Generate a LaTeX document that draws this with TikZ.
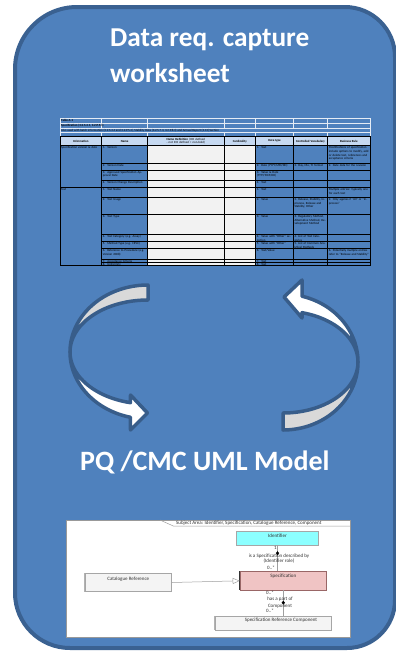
\documentclass[tikz,border=0pt]{standalone}
\usepackage{fontspec}
\setmainfont{Carlito}
\usetikzlibrary{arrows.meta}
\definecolor{panel}{HTML}{4F81BD}
\definecolor{panelborder}{HTML}{3A6191}
\definecolor{hdr}{HTML}{C6D9F1}
\definecolor{cellgray}{HTML}{F2F2F2}
\definecolor{arrowedge}{HTML}{385D8A}
\definecolor{arrowgray}{HTML}{D9D9D9}
\definecolor{umlcyan}{HTML}{8CFFFF}
\definecolor{umlpink}{HTML}{F0C4C4}
\definecolor{umlgray}{HTML}{F4F4F4}
\definecolor{umltext}{HTML}{333333}
\newcommand\tabfont{\fontsize{3.1}{3.6}\selectfont}
\newcommand\umlfont{\fontsize{5}{5.6}\selectfont}
\newcommand\bodyrow[6]{%
  \node[tcell,text width=44pt] (#2n) at (102.7,#1+0.8) {#3};
  \node[tcell,text width=36pt] (#2t) at (256.7,#1+0.8) {#4};
  \node[tcell,text width=32pt] (#2v) at (294.3,#1+0.8) {#5};
  \node[tcell,text width=40pt] (#2r) at (328.7,#1+0.8) {#6};
}
\begin{document}
\begin{tikzpicture}[x=1pt,y=-1pt,
  tcell/.style={anchor=north west,inner sep=0pt,font=\tabfont,align=left,text=black},
  thead/.style={anchor=center,inner sep=0pt,font=\tabfont\bfseries,align=center,text=black},
  cellline/.style={draw=black,line width=1pt},
  lightline/.style={draw=white!85!panel,line width=0.8pt},
  bigarrow/.style={draw=arrowedge,line width=3.5pt,line join=round},
  title/.style={anchor=base west,inner sep=0pt,text=white,font=\fontsize{27.3}{32}\selectfont\bfseries},
  umlbox/.style={draw=gray!70,line width=0.5pt,inner sep=0pt},
  umllabel/.style={inner sep=0pt,font=\umlfont,text=umltext},
  umlline/.style={draw=gray!75,line width=0.5pt}]
\useasboundingbox (0,0) rectangle (396,653);
\fill[white] (0,0) rectangle (396,653);
% main panel
\filldraw[fill=panel,draw=panelborder,line width=4pt]
  (15,69) .. controls (15,34.8) and (42.8,7) .. (77,7)
  -- (345,7) .. controls (372.6,7) and (395,29.4) .. (395,57)
  -- (395,600) .. controls (395,626.5) and (373.5,648) .. (347,648)
  -- (70,648) .. controls (39.6,648) and (15,623.4) .. (15,593) -- cycle;
% title
\node[title] (title1) at (110,46.7) {Data req. capture};
\node[title] (title2) at (110,82) {worksheet};
% ---------- table ----------
\foreach \y in {118.3,123.3,128.3,132.7}
  \draw[lightline] (60,\y) -- (370,\y);
\foreach \x in {60,101.7,147.7,224,255.7,293.3,327.7,370}
  {\draw[lightline] (\x,118.3) -- (\x,128.3);
   \draw[lightline] (\x,132.7) -- (\x,136.7);}
\draw[lightline] (60,128.3) -- (60,132.7) (370,128.3) -- (370,132.7);
\node[tcell,font=\tabfont\bfseries] (ta1) at (61,119.1) {Table A-1};
\node[tcell,font=\tabfont\bfseries] (ta2) at (61,124.1) {Specification (3.2.S.4.1, 3.2.P.5.1)};
\node[tcell] (ta3) at (61,129) {Also used with batch information (3.2.S.4.4 and 3.2.P.5.4), Stability Data (3.2.S.7.3, 3.2.P.8.3) and Annual Report (3.13) Section};
% header
\foreach \xa/\xb in {60/101.7,101.7/147.7,147.7/224,224/255.7,255.7/293.3,293.3/327.7,327.7/370}
  \draw[cellline,fill=hdr] (\xa,136.7) rectangle (\xb,145.7);
\node[thead] (h1) at (80.8,141.2) {Information};
\node[thead] (h2) at (124.7,141.2) {Name};
\node[thead,text width=74pt] (h3) at (185.8,141.2) {Name Definition \normalfont(ICH defined - not ICH defined = non-bold)};
\node[thead] (h4) at (239.8,141.2) {Cardinality};
\node[thead] (h5) at (274.5,141.2) {Data type};
\node[thead,text width=32pt] (h6) at (310.5,141.2) {Controlled Vocabulary};
\node[thead] (h7) at (348.8,141.2) {Business Rule};
% body
\draw[cellline,fill=panel] (60,145.7) rectangle (101.7,187.3);
\draw[cellline,fill=panel] (60,187.3) rectangle (101.7,265.3);
\foreach \ya/\yb in {145.7/163.3,163.3/170,170/180.3,180.3/187.3,187.3/197.3,197.3/214.3,214.3/234.7,234.7/241.7,241.7/248.3,248.3/259.3,259.3/262,262/265.3}
  {\draw[cellline,fill=panel] (101.7,\ya) rectangle (147.7,\yb);
   \draw[cellline,fill=cellgray] (147.7,\ya) rectangle (224,\yb);
   \draw[cellline,fill=cellgray] (224,\ya) rectangle (255.7,\yb);
   \draw[cellline,fill=panel] (255.7,\ya) rectangle (293.3,\yb);
   \draw[cellline,fill=panel] (293.3,\ya) rectangle (327.7,\yb);
   \draw[cellline,fill=panel] (327.7,\ya) rectangle (370,\yb);}
\node[tcell,text width=39pt] (g1) at (61,146.5) {Specification version \& date};
\node[tcell,text width=39pt] (g2) at (61,188.1) {Test};
\bodyrow{145.7}{ra}{1.\ \ Version}{1.\ \ Text}{}{Modifications of specification include options to modify, add or delete test, references and acceptance criteria}
\bodyrow{163.3}{rb}{2.\ \ Version Date}{2.\ \ Date (YYYY/MM/DD)}{2. Day, Mo, Yr format}{2. Date data for the revision}
\bodyrow{170}{rc}{3.\ \ Approved Specification Approval Date}{3.\ \ Value \& Date (YYYY/MM/DD)}{}{}
\bodyrow{180.3}{rd}{4.\ \ Version Change Description}{4.\ \ Text}{}{}
\bodyrow{187.3}{re}{1.\ \ Test Name}{1.\ \ Text}{}{Multiple entries: typically one for each test}
\bodyrow{197.3}{rf}{2.\ \ Test Usage}{2.\ \ Value}{2. Release, Stability, In-process, Release and Stability, Other}{2. Only applies if ``All'' or ``In-process''}
\bodyrow{214.3}{rg}{3.\ \ Test Type}{3.\ \ Value}{3. Regulatory Method, Alternative Method, Development Method}{}
\bodyrow{234.7}{rh}{4.\ \ Test Category (e.g. Assay)}{4.\ \ Value with ``Other'' selection}{4. List of Test Categories}{}
\bodyrow{241.7}{ri}{5.\ \ Method Type (e.g. HPLC)}{5.\ \ Value with ``Other''}{5. List of Common Analytical Methods}{}
\bodyrow{248.3}{rj}{6.\ \ Reference to Procedure (e.g. Version 2008)}{6.\ \ Text/Value}{}{6. Potentially multiple entries refer to ``Release and Stability''}
\bodyrow{259.3}{rk}{7.\ \ Acceptance Criteria}{7.\ \ Text}{}{}
\bodyrow{262}{rl}{8.\ \ Uniformity}{8.\ \ Text}{}{}
% ---------- curved arrows ----------
% left arrow: centre (148,352), a=78, b1=67, b2=52
\filldraw[bigarrow,fill=arrowgray]
  plot[domain=270:180,samples=40,variable=\t] ({148+78*cos(\t)},{352+67*sin(\t)})
  -- plot[domain=180:270,samples=40,variable=\t] ({148+78*cos(\t)},{352+52*sin(\t)})
  -- cycle;
\filldraw[bigarrow,fill=white]
  plot[domain=180:103,samples=40,variable=\t] ({148+78*cos(\t)},{352+52*sin(\t)})
  -- (130.5,395) -- (147.5,413) -- (130.5,430)
  -- plot[domain=103:180,samples=40,variable=\t] ({148+78*cos(\t)},{352+67*sin(\t)})
  -- cycle;
% right arrow: centre (283,362), a=75, b1=68, b2=51
\filldraw[bigarrow,fill=arrowgray]
  plot[domain=90:0,samples=40,variable=\t] ({283+75*cos(\t)},{362+68*sin(\t)})
  -- plot[domain=0:90,samples=40,variable=\t] ({283+75*cos(\t)},{362+51*sin(\t)})
  -- cycle;
\filldraw[bigarrow,fill=white]
  plot[domain=0:-75.3,samples=40,variable=\t] ({283+75*cos(\t)},{362+51*sin(\t)})
  -- (302,318) -- (284,297) -- (302,280)
  -- plot[domain=-75.3:0,samples=40,variable=\t] ({283+75*cos(\t)},{362+68*sin(\t)})
  -- cycle;
% model title
\node[title,font=\fontsize{28}{32}\selectfont\bfseries] (model) at (80,470) {PQ /CMC UML Model};
% ---------- UML picture ----------
\filldraw[fill=white,draw=gray!80,line width=0.6pt] (66.7,520) rectangle (350,637);
\draw[umlline] (160,520) -- (173.3,526) -- (350,526);
\node[umllabel,anchor=west] (frame) at (176,523.2) {Subject Area: Identifier, Specification, Catalogue Reference, Component};
\node[umlbox,fill=umlcyan,minimum width=81.6pt,minimum height=13.3pt] (ident) at (277.5,538.3) {};
\node[umllabel,anchor=north] (identl) at (277.5,533.4) {Identifier};
\node[umlbox,fill=umlpink,draw=gray!80!red,minimum width=86.7pt,minimum height=18.3pt] (spec) at (283.3,580.8) {};
\draw[black!80,line width=1pt] (spec.north west) -- (spec.south west);
\node[umllabel,anchor=north] (specl) at (283.3,574) {Specification};
\node[umlbox,fill=umlgray,minimum width=86.7pt,minimum height=18.4pt] (catref) at (128.3,582.5) {};
\draw[gray!60,line width=0.8pt] (catref.north west) -- (catref.south west);
\node[umllabel,anchor=north] (catrefl) at (128.3,576.6) {Catalogue Reference};
\node[umlbox,fill=umlgray,minimum width=116.7pt,minimum height=14pt] (comp) at (273.3,623) {};
\draw[gray!60,line width=0.8pt] (comp.north west) -- (comp.south west);
\node[umllabel,anchor=north] (compl) at (281,618) {Specification Reference Component};
% UML connectors
\draw[umlline] (ident.south) -- (ident.south |- spec.north);
\draw[umlline,-{Triangle[open,length=7pt,width=6pt]}] (catref.east) -- (spec.west);
\draw[umlline] (spec.south) -- (spec.south |- comp.north);
\fill[black] (277.5,551.2) -- (279.2,553.2) -- (277.5,555.2) -- (275.8,553.2) -- cycle;
\fill[black] (283.3,600.7) -- (285,602.7) -- (283.3,604.7) -- (281.6,602.7) -- cycle;
\node[umllabel] (m1) at (275.3,548) {1};
\node[umllabel,align=center] (r1) at (279,558.5) {is a Specification described by\\(Identifier role)};
\node[umllabel] (m2) at (271,568) {0..*};
\node[umllabel] (m3) at (270,592.5) {0..*};
\node[umllabel] (r2) at (280,598.8) {has a part of};
\node[umllabel] (r3) at (280,606.7) {Component};
\node[umllabel] (m4) at (270,611) {0..*};
\end{tikzpicture}
\end{document}
